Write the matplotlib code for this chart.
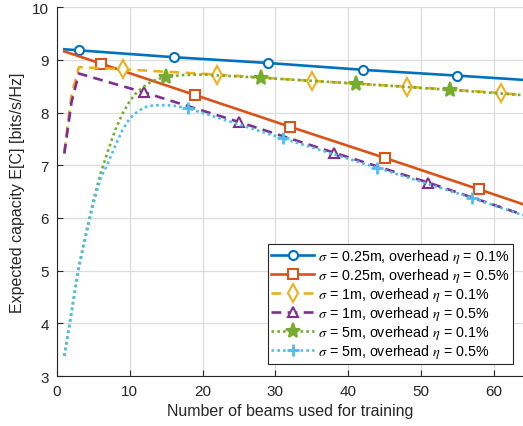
import matplotlib
matplotlib.use("Agg")
import matplotlib.pyplot as plt

# expected capacity vs. number of training beams
beams_s025_01 = [1, 3, 16, 29, 42, 55, 64]
cap_s025_01 = [9.20, 9.18, 9.05, 8.94, 8.81, 8.70, 8.62]

beams_s025_05 = [1, 6, 19, 32, 45, 58, 64]
cap_s025_05 = [9.16, 8.93, 8.33, 7.73, 7.14, 6.54, 6.26]

beams_s1_01 = [1, 2, 3, 9, 22, 35, 48, 61, 64]
cap_s1_01 = [7.25, 8.35, 8.86, 8.82, 8.72, 8.60, 8.49, 8.37, 8.33]

beams_s1_05 = [1, 2, 3, 12, 25, 38, 51, 64]
cap_s1_05 = [7.22, 8.20, 8.74, 8.38, 7.82, 7.24, 6.67, 6.06]

beams_s5_01 = [1, 2, 3, 4, 5, 6, 7, 8, 9, 10, 11, 12, 13, 14, 15, 17, 20, 28, 41, 54, 64]
cap_s5_01 = [3.38, 4.22, 5.08, 5.72, 6.33, 6.85, 7.27, 7.67, 7.98, 8.22, 8.39, 8.50, 8.59, 8.64, 8.67,
             8.71, 8.72, 8.66, 8.55, 8.43, 8.33]

beams_s5_05 = [1, 2, 3, 4, 5, 6, 7, 8, 9, 10, 11, 12, 13, 14, 15, 16, 18, 31, 44, 57, 64]
cap_s5_05 = [3.38, 4.22, 5.05, 5.68, 6.27, 6.76, 7.04, 7.37, 7.67, 7.89, 8.01, 8.10, 8.13, 8.14, 8.14,
             8.13, 8.08, 7.51, 6.95, 6.38, 6.05]

labels = [r"$\sigma$ = 0.25m, overhead $\eta$ = 0.1%",
          r"$\sigma$ = 0.25m, overhead $\eta$ = 0.5%",
          r"$\sigma$ = 1m, overhead $\eta$ = 0.1%",
          r"$\sigma$ = 1m, overhead $\eta$ = 0.5%",
          r"$\sigma$ = 5m, overhead $\eta$ = 0.1%",
          r"$\sigma$ = 5m, overhead $\eta$ = 0.5%"]

plt.rcParams['font.family'] = ['Liberation Sans', 'DejaVu Sans']
plt.rcParams['mathtext.fontset'] = 'stix'
plt.rcParams['font.size'] = 11

fig = plt.figure(figsize=(5.23, 4.27), dpi=100)
ax = fig.add_axes([0.109, 0.117, 0.891, 0.864])

dash = (0, (3.7, 2.4))
dots = (0, (1, 1.2))
series = [
    (beams_s025_01, cap_s025_01, '#0072BD', '-', 'o', 6.5, 3),
    (beams_s025_05, cap_s025_05, '#D95319', '-', 's', 6.5, 6),
    (beams_s1_01, cap_s1_01, '#EDB120', dash, 'd', 9, 9),
    (beams_s1_05, cap_s1_05, '#7E2F8E', dash, '^', 7.5, 12),
    (beams_s5_01, cap_s5_01, '#77AC30', dots, '*', 11, 15),
    (beams_s5_05, cap_s5_05, '#4DBEEE', dots, '+', 8, 18),
]

for (xs, ys, col, ls, mk, ms, start), lab in zip(series, labels):
    idx = [xs.index(v) for v in range(start, 64, 13)]
    filled = mk == '*'
    ax.plot(xs, ys, color=col, linestyle=ls, linewidth=1.9, marker=mk, markevery=idx,
            markersize=ms, markeredgewidth=1.5 if mk != '+' else 2,
            markerfacecolor=col if filled else 'white', markeredgecolor=col, label=lab)

ax.set_xlim(0, 64)
ax.set_ylim(3, 10)
ax.set_xticks(range(0, 61, 10))
ax.set_yticks(range(3, 11))
ax.grid(True, color='#dcdcdc', linewidth=0.9)
ax.set_axisbelow(True)
for s in ['top', 'right']:
    ax.spines[s].set_visible(False)
for s in ['left', 'bottom']:
    ax.spines[s].set_color('#262626')
ax.tick_params(direction='in', length=4, colors='#262626', labelsize=11, pad=6)

ax.set_xlabel('Number of beams used for training', color='#262626', labelpad=3, fontsize=11.5)
ax.set_ylabel('Expected capacity E[C] [bits/s/Hz]', color='#262626', labelpad=5, fontsize=11.5)

leg = ax.legend(loc='lower right', bbox_to_anchor=(0.979, 0.0325), fancybox=False,
                framealpha=1, edgecolor='#262626', handlelength=3.0, labelspacing=0.07,
                borderpad=0.25, handletextpad=0.3, borderaxespad=0, fontsize=10.3)
leg.get_frame().set_linewidth(0.8)

fig.savefig('out.png', dpi=100)
